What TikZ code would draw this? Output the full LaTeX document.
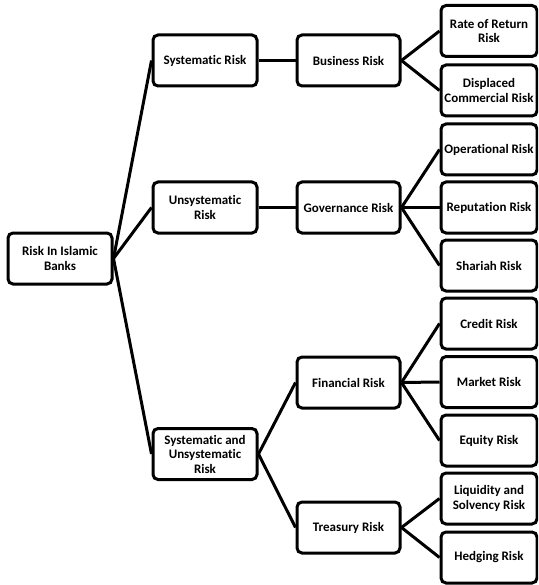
\documentclass[tikz,border=0pt]{standalone}
\usepackage{fontspec}
\setmainfont{Carlito}[Ligatures={NoCommon}]
\begin{document}
\begin{tikzpicture}[x=1pt,y=-1pt,
  riskbox/.style={draw=black, line width=3pt, rounded corners=5pt, fill=white,
    align=center, inner sep=1pt, font=\bfseries\fontsize{13}{14.5}\selectfont},
  lvlzero/.style={riskbox, minimum width=104pt, minimum height=51pt},
  lvlone/.style={riskbox, minimum width=104pt, minimum height=51pt},
  lvltwo/.style={riskbox, minimum width=103pt, minimum height=51pt},
  lvlthree/.style={riskbox, minimum width=96pt, minimum height=51pt},
  link/.style={draw=black, line width=3pt}]
\useasboundingbox (0,0) rectangle (538,585);
\clip (0,0) rectangle (538,585);

% root
\node[lvlzero] (root) at (60,258.5) {Risk In Islamic\\Banks};

% first level
\node[lvlone] (sys)   at (205,60.5)  {Systematic Risk};
\node[lvlone] (unsys) at (205,207.5) {Unsystematic\\Risk};
\node[lvlone] (both)  at (205,454)   {Systematic and\\Unsystematic\\Risk};

% second level
\node[lvltwo] (bus)  at (348.5,60.5)  {Business Risk};
\node[lvltwo] (gov)  at (348.5,207.5) {Governance Risk};
\node[lvltwo] (fin)  at (348.5,382.5) {Financial Risk};
\node[lvltwo] (tre)  at (348.5,527.5) {Treasury Risk};

% third level
\node[lvlthree] (ror)  at (489,31)    {Rate of Return\\Risk};
\node[lvlthree] (dcr)  at (489,90.5)  {Displaced\\Commercial Risk};
\node[lvlthree] (ops)  at (489,149.5) {Operational Risk};
\node[lvlthree] (rep)  at (489,207.5) {Reputation Risk};
\node[lvlthree] (sha)  at (489,265.5) {Shariah Risk};
\node[lvlthree] (cre)  at (489,323.5) {Credit Risk};
\node[lvlthree] (mkt)  at (489,382)   {Market Risk};
\node[lvlthree] (equ)  at (489,440.5) {Equity Risk};
\node[lvlthree] (liq)  at (489,498.5) {Liquidity and\\Solvency Risk};
\node[lvlthree] (hed)  at (489,557.5) {Hedging Risk};

% connectors from each box's right side to its children's left sides
\foreach \a/\b in {root/sys, root/unsys, root/both,
                   sys/bus, unsys/gov, both/fin, both/tre,
                   bus/ror, bus/dcr,
                   gov/ops, gov/rep, gov/sha,
                   fin/cre, fin/mkt, fin/equ,
                   tre/liq, tre/hed}
  \draw[link] (\a.east) -- (\b.west);
\end{tikzpicture}
\end{document}
